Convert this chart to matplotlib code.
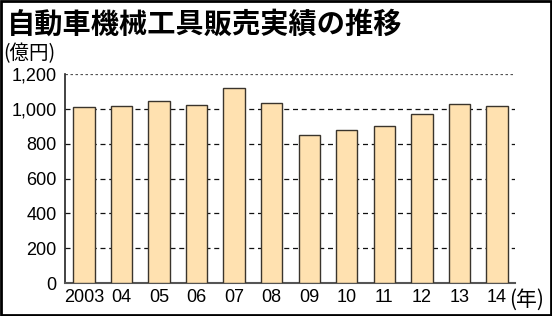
import matplotlib.pyplot as plt
from matplotlib.patches import Rectangle

# données (億円)
years = ["2003", "04", "05", "06", "07", "08", "09", "10", "11", "12", "13", "14"]
sales = [1012, 1018, 1047, 1022, 1118, 1035, 848, 876, 904, 969, 1030, 1016]
yticks = [0, 200, 400, 600, 800, 1000, 1200]
ytick_labels = ["0", "200", "400", "600", "800", "1,000", "1,200"]

jp = ["Noto Sans CJK JP", "DejaVu Sans"]
num = ["Liberation Sans", "DejaVu Sans"]

fig = plt.figure(figsize=(5.52, 3.16), dpi=100)
ax = fig.add_axes([0.118, 0.104, 0.815, 0.662])

x = range(len(years))
ax.bar(x, sales, width=0.57, color="#FFE1B0", edgecolor="#3a342c", linewidth=1.0, zorder=3)

# grille en pointillés
for v in yticks[1:]:
    ls = (0, (2, 2)) if v == 1200 else (0, (4, 3))
    col = "#555555" if v == 1200 else "#111111"
    ax.axhline(v, color=col, linestyle=ls, linewidth=0.9, zorder=1)

ax.set_xlim(-0.5, 11.48)
ax.set_ylim(0, 1200)
ax.set_yticks(yticks)
ax.set_yticklabels(ytick_labels, family=num, fontsize=13)
ax.set_xticks(list(x))
ax.set_xticklabels(years, family=num, fontsize=13)
ax.tick_params(axis="x", length=0, pad=4)
ax.tick_params(axis="y", length=0, pad=6)

for s in ["top", "right"]:
    ax.spines[s].set_visible(False)
ax.spines["left"].set_color("#222222")
ax.spines["bottom"].set_color("#555555")
ax.spines["left"].set_linewidth(1.2)
ax.spines["bottom"].set_linewidth(1.5)

fig.text(0.012, 0.965, "自動車機械工具販売実績の推移", family=jp, fontsize=20.3,
         fontweight="bold", va="top", ha="left")
fig.text(0.006, 0.83, "(億円)", family=jp, fontsize=14, va="center", ha="left")
fig.text(0.922, 0.052, "(年)", family=jp, fontsize=15, va="center", ha="left")

fig.add_artist(Rectangle((0.002, 0.003), 0.996, 0.994, transform=fig.transFigure,
                         fill=False, edgecolor="black", linewidth=2))

fig.savefig("out.png", dpi=100)
